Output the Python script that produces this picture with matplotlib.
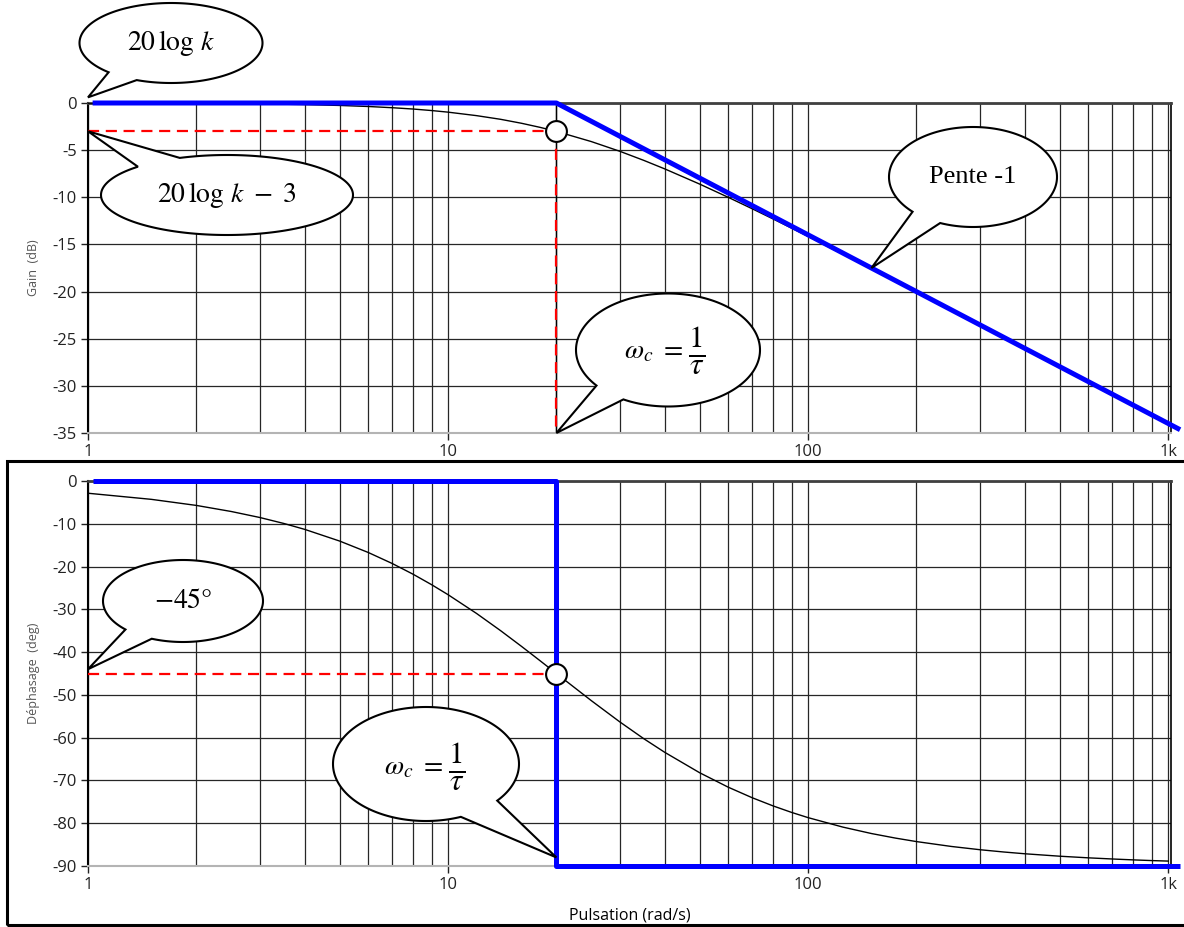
import matplotlib
matplotlib.use("Agg")
import matplotlib.pyplot as plt
import numpy as np
from matplotlib.path import Path
from matplotlib.patches import PathPatch, Rectangle
from matplotlib.ticker import FixedLocator, NullFormatter

# Bode diagram of a first order system k / (1 + j w tau), k = 1, wc = 20 rad/s
W, H = 1184, 927

w = [1, 1.5, 2, 2.5, 3, 3.5, 4, 5, 6, 7, 8, 9, 10, 12, 14, 16, 18, 20, 25, 30,
     35, 40, 50, 60, 70, 80, 90, 100, 125, 150, 175, 200, 250, 300, 350, 400,
     500, 600, 700, 800, 900, 1000]
gain_db = [-0.01, -0.02, -0.04, -0.07, -0.10, -0.13, -0.17, -0.26, -0.37, -0.50,
           -0.64, -0.80, -0.97, -1.34, -1.73, -2.15, -2.58, -3.01, -4.09, -5.12,
           -6.09, -6.99, -8.60, -10.0, -11.22, -12.30, -13.27, -14.15, -16.03,
           -17.58, -18.90, -20.04, -21.97, -23.54, -24.88, -26.03, -27.97,
           -29.55, -30.89, -32.04, -33.07, -33.98]
phase_deg = [-2.86, -4.29, -5.71, -7.13, -8.53, -9.93, -11.31, -14.04, -16.70,
             -19.29, -21.80, -24.23, -26.57, -30.96, -34.99, -38.66, -41.99,
             -45.00, -51.34, -56.31, -60.26, -63.43, -68.20, -71.57, -74.05,
             -75.96, -77.47, -78.69, -80.91, -82.41, -83.48, -84.29, -85.43,
             -86.19, -86.73, -87.14, -87.71, -88.09, -88.36, -88.57, -88.73,
             -88.85]

# asymptotic diagrams
w_asym_gain = [1.03, 20, 1080]
gain_asym = [0, 0, -34.65]
w_asym_phase = [1.03, 20, 20, 1080]
phase_asym = [0, 0, -90, -90]

wc = 20
gain_wc = -3
phase_wc = -45

gain_ticks = [0, -5, -10, -15, -20, -25, -30, -35]
phase_ticks = [0, -10, -20, -30, -40, -50, -60, -70, -80, -90]
x_ticks = [1, 10, 100, 1000]
x_labels = ["1", "10", "100", "1k"]

plt.rcParams['font.family'] = ['Open Sans', 'DejaVu Sans']
plt.rcParams['mathtext.fontset'] = 'stix'
plt.rcParams['axes.unicode_minus'] = False

fig = plt.figure(figsize=(W / 100, H / 100), dpi=100)
ax1 = fig.add_axes([88 / W, 1 - 433 / H, (1171 - 88) / W, 330 / H])
ax2 = fig.add_axes([88 / W, 1 - 866 / H, (1171 - 88) / W, 385 / H])

minor = [m * 10 ** d for d in range(3) for m in range(2, 10)]

for ax, ticks in ((ax1, gain_ticks), (ax2, phase_ticks)):
    ax.set_xscale('log')
    ax.set_xlim(1, 1019)
    ax.set_ylim(ticks[-1], ticks[0])
    ax.set_yticks(ticks)
    ax.set_yticklabels([str(t) for t in ticks])
    ax.xaxis.set_major_locator(FixedLocator(x_ticks))
    ax.set_xticklabels(x_labels)
    ax.xaxis.set_minor_locator(FixedLocator(minor))
    ax.xaxis.set_minor_formatter(NullFormatter())
    ax.tick_params(axis='x', which='minor', length=0)
    ax.tick_params(axis='both', which='major', direction='out', length=5,
                   width=1, labelsize=12, pad=3, colors='#222222')
    ax.grid(True, which='both', axis='x', color='#262626', lw=0.9)
    ax.grid(True, which='major', axis='y', color='#262626', lw=0.9)
    ax.set_axisbelow(True)
    ax.spines['top'].set_color('#404040')
    ax.spines['top'].set_linewidth(2)
    ax.spines['left'].set_color('black')
    ax.spines['left'].set_linewidth(1.5)
    ax.spines['right'].set_color('black')
    ax.spines['right'].set_linewidth(1.2)
    ax.spines['bottom'].set_color('#b4b4b4')
    ax.spines['bottom'].set_linewidth(1.5)

dash = (0, (5, 3))

# gain
ax1.axvline(wc, color='black', lw=1, zorder=2)
ax1.plot(w, gain_db, color='black', lw=1, zorder=3)
ax1.plot([1, wc], [gain_wc, gain_wc], color='red', lw=1.6, ls=dash, zorder=4)
ax1.plot([wc, wc], [gain_wc, gain_ticks[-1]], color='red', lw=1.6, ls=dash, zorder=4)
ax1.plot(w_asym_gain, gain_asym, color='#0000ff', lw=3.6, zorder=5,
         clip_on=False, solid_capstyle='butt')
ax1.plot([wc], [gain_wc], 'o', ms=15, mfc='white', mec='black', mew=1.5,
         zorder=6, clip_on=False)
ax1.set_ylabel("Gain  (dB)", fontsize=9, color='#555555')

# phase
ax2.plot(w, phase_deg, color='black', lw=1, zorder=3)
ax2.plot([1, wc], [phase_wc, phase_wc], color='red', lw=1.6, ls=dash, zorder=4)
ax2.plot(w_asym_phase, phase_asym, color='#0000ff', lw=3.6, zorder=5,
         clip_on=False, solid_capstyle='butt')
ax2.plot([wc], [phase_wc], 'o', ms=15, mfc='white', mec='black', mew=1.5,
         zorder=6, clip_on=False)
ax2.set_ylabel("Déphasage  (deg)", fontsize=9, color='#555555')
ax2.set_xlabel("Pulsation (rad/s)", fontsize=11.5, labelpad=10)
ax2.yaxis.set_label_coords(-48 / (1171 - 88), 0.5)
ax1.yaxis.set_label_coords(-48 / (1171 - 88), 0.5)

# frame around the phase plot
fig.add_artist(Rectangle((7 / W, 2 / H), (1190 - 7) / W, (466 - 2) / H,
                         fill=False, ec='black', lw=2.2,
                         transform=fig.transFigure, clip_on=False))


def bubble(ax, tip, cx, cy, bw, bh, g1, g2, text=None, **kw):
    """Speech bubble: ellipse centred at (cx, cy) in pixels from the top-left,
    with a tail between ellipse angles g1 < g2 pointing at a data point."""
    tx, ty = ax.transData.transform(tip)
    t = np.radians(np.linspace(g2, g1 + 360, 200))
    xs = cx + bw / 2 * np.cos(t)
    ys = H - (cy + bh / 2 * np.sin(t))
    verts = list(zip(xs / W, ys / H)) + [(tx / W, ty / H), (xs[0] / W, ys[0] / H)]
    codes = [Path.MOVETO] + [Path.LINETO] * (len(verts) - 2) + [Path.CLOSEPOLY]
    fig.add_artist(PathPatch(Path(verts, codes), fc='white', ec='black', lw=1.5,
                             transform=fig.transFigure, zorder=10))
    if text is not None:
        fig.text(cx / W, 1 - cy / H, text, ha='center', va='center', zorder=11, **kw)


def omega_c(x_eq, y):
    # "wc = 1/tau" with a full size fraction
    fig.text(x_eq / W, 1 - y / H, r'$\omega_c\ =$', ha='right', va='center',
             fontsize=20, zorder=11)
    fig.text((x_eq + 5) / W, 1 - y / H, r'$\frac{1}{\tau}$', ha='left',
             va='center', fontsize=32, zorder=11)


bubble(ax1, (1, 0.6), 171, 43, 183, 80, 112, 133,
       r'$20\,\log\,k$', fontsize=20)
bubble(ax1, (1, gain_wc), 227, 195, 252, 80, -135, -112,
       r'$20\,\log\,k\ -\ 3$', fontsize=20)
bubble(ax1, (wc, gain_ticks[-1]), 668, 350, 184, 113, 119, 141)
omega_c(683, 351)
bubble(ax1, (150, -17.5), 973, 177, 168, 100, 113, 136,
       'Pente -1', fontsize=19, family='Liberation Serif')
bubble(ax2, (1, -44), 183, 601, 160, 82, 113, 136,
       r'$-45\degree$', fontsize=20)
bubble(ax2, (wc, -88), 426, 764, 186, 114, 40, 68)
omega_c(443, 767)

fig.savefig("out.png", dpi=100)
